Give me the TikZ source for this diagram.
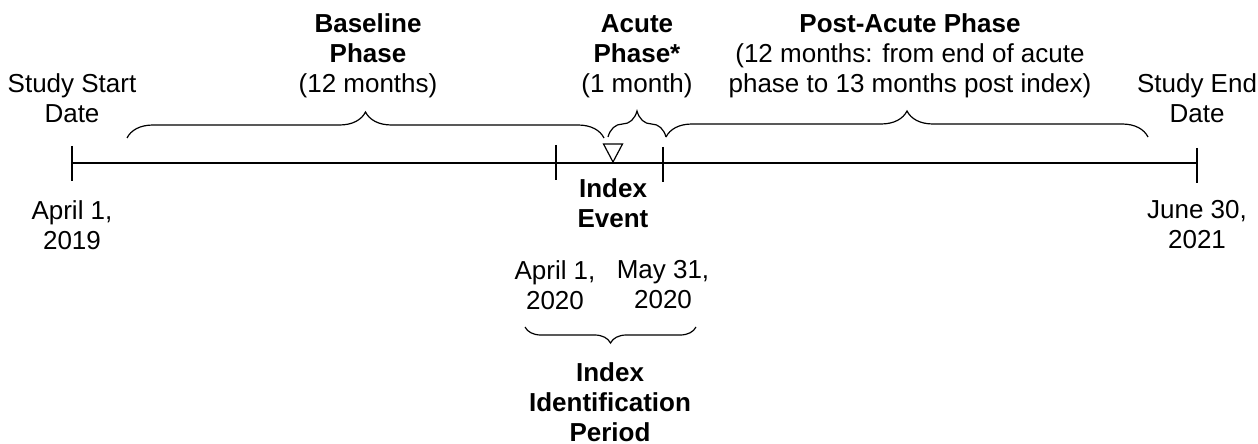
\documentclass[tikz,border=0pt]{standalone}
\usepackage{fontspec}
\setmainfont{Liberation Sans}
\usetikzlibrary{decorations.pathreplacing}

\begin{document}
\begin{tikzpicture}[x=0.5pt,y=-0.5pt,
	date_text/.style={align=center,inner sep=0pt,font=\fontsize{13}{15}\selectfont},
	tick_mark/.style={line width=0.8pt},
	phase_brace/.style={decorate,decoration={brace,amplitude=13pt},line width=0.6pt},
	period_brace/.style={decorate,decoration={brace,amplitude=8pt},line width=0.6pt}]

		\useasboundingbox (0,0) rectangle (1258,444);

		% timeline
		\coordinate (t_start) at (72,163);
		\coordinate (t_end) at (1197,163);
		\coordinate (t_period_start) at (556,163);
		\coordinate (t_period_end) at (663,163);
		\coordinate (t_index) at (613,162);

		\draw[line width=0.8pt] (t_start) -- (t_end);
		\draw[tick_mark] (72,146) -- (72,181);
		\draw[tick_mark] (556,145) -- (556,180);
		\draw[tick_mark] (663,147) -- (663,182);
		\draw[tick_mark] (1197,148) -- (1197,183);
		\draw[line width=0.6pt] (t_index) -- ++(-9.5,-18) -- ++(19,0) -- cycle;

		% labels
		\node[date_text] (start_label) at (72,98) {Study Start\\Date};
		\node[date_text] (start_date) at (72,225) {April 1,\\2019};
		\node[date_text] (end_label) at (1197,98) {Study End\\Date};
		\node[date_text] (end_date) at (1197,225) {June 30,\\2021};
		\node[date_text] (baseline) at (368,56) {\textbf{Baseline}\\\textbf{Phase}\\(12 months)};
		\node[date_text] (acute) at (637,56) {\textbf{Acute}\\\textbf{Phase*}\\(1 month)};
		\node[date_text] (post_acute) at (910,56) {\textbf{Post-Acute Phase}\\(12 months: from end of acute\\phase to 13 months post index)};
		\node[date_text,font=\fontsize{13}{15}\selectfont\bfseries] (index_event) at (613,203) {Index\\Event};
		\node[date_text] (period_start) at (555,285) {April 1,\\2020};
		\node[date_text] (period_end) at (663,285) {May 31,\\2020};
		\node[date_text,font=\fontsize{13}{15}\selectfont\bfseries] (period_label) at (610,402) {Index\\Identification\\Period};

		% braces
		\coordinate (b_base_l) at (127,138);
		\coordinate (b_base_r) at (604,138);
		\coordinate (b_acute_l) at (608,137);
		\coordinate (b_acute_r) at (666,137);
		\coordinate (b_post_r) at (1148,137);
		\coordinate (b_period_l) at (525,327);
		\coordinate (b_period_r) at (696,327);

		\draw[phase_brace] (b_base_l) -- (b_base_r);
		\draw[phase_brace] (b_acute_l) -- (b_acute_r);
		\draw[phase_brace] (b_acute_r) -- (b_post_r);
		\draw[period_brace] (b_period_r) -- (b_period_l);
		\end{tikzpicture}
\end{document}
